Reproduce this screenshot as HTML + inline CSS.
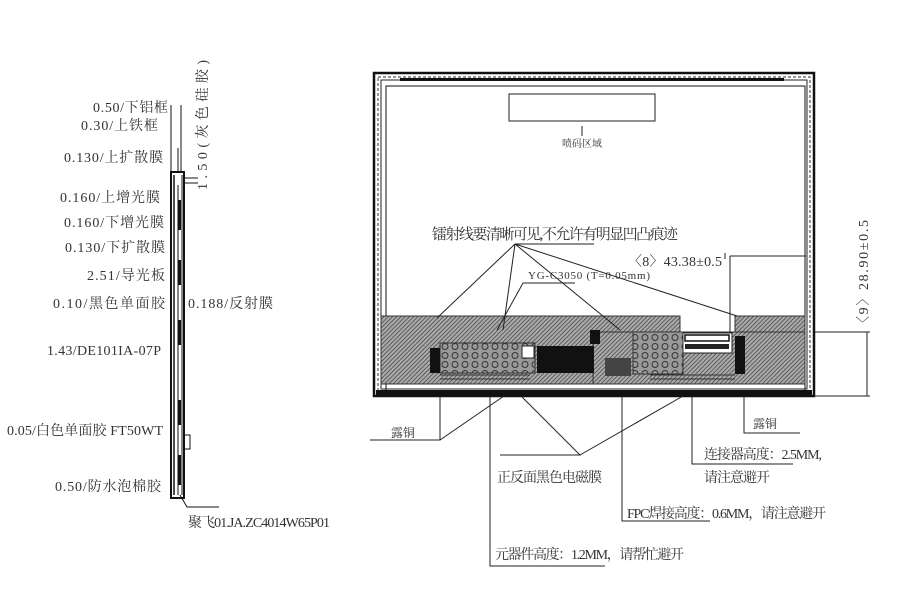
<!DOCTYPE html>
<html><head><meta charset="utf-8"><style>
html,body{margin:0;padding:0;background:#fff;}
svg{display:block;}
text{font-family:"Liberation Serif","Noto Serif CJK SC",serif;fill:#333;}
</style></head><body>
<svg width="920" height="613" viewBox="0 0 920 613" xmlns="http://www.w3.org/2000/svg">
<defs>
<pattern id="h" width="3" height="3" patternUnits="userSpaceOnUse" patternTransform="rotate(45)">
<rect width="3" height="3" fill="#aaa"/><line x1="0" y1="0" x2="0" y2="3" stroke="#444" stroke-width="1.5"/>
</pattern>
<pattern id="c" width="10" height="9" patternUnits="userSpaceOnUse">
<rect width="10" height="9" fill="#999"/><circle cx="5" cy="4.5" r="3" fill="none" stroke="#333" stroke-width="1"/>
</pattern>
</defs>

<!-- LEFT side view -->
<g stroke="#111" fill="none">
<line x1="171" y1="105" x2="171" y2="172" stroke-width="1"/>
<line x1="181" y1="105" x2="181" y2="172" stroke-width="1"/>
<line x1="178" y1="148" x2="178" y2="172" stroke-width="1"/>
<rect x="171" y="172" width="13" height="326" stroke-width="2"/>
<line x1="174" y1="175" x2="174" y2="495" stroke-width="1.5"/>
<line x1="178" y1="185" x2="178" y2="495" stroke-width="1"/>
<line x1="182" y1="175" x2="182" y2="495" stroke-width="1"/>
<line x1="184" y1="178" x2="198" y2="178" stroke-width="1"/>
<line x1="184" y1="183" x2="198" y2="183" stroke-width="1"/>
<rect x="184" y="435" width="6" height="14" stroke-width="1"/>
<polyline points="180,495 187,507 219,507" stroke-width="1"/>
</g>
<g fill="#111">
<rect x="178" y="200" width="3" height="30"/><rect x="178" y="260" width="3" height="25"/>
<rect x="178" y="320" width="3" height="25"/><rect x="178" y="400" width="3" height="25"/>
<rect x="178" y="455" width="3" height="30"/>
</g>
<g font-size="14">
<text x="93" y="112" textLength="75">0.50/下铝框</text>
<text x="81" y="130" textLength="77">0.30/上铁框</text>
<text x="64" y="162" textLength="99">0.130/上扩散膜</text>
<text x="60" y="202" textLength="100">0.160/上增光膜</text>
<text x="64" y="227" textLength="100">0.160/下增光膜</text>
<text x="65" y="252" textLength="100">0.130/下扩散膜</text>
<text x="87" y="280" textLength="78">2.51/导光板</text>
<text x="53" y="308" textLength="112">0.10/黑色单面胶</text>
<text x="188" y="308" textLength="85">0.188/反射膜</text>
<text x="47" y="355" textLength="114">1.43/DE101IA-07P</text>
<text x="7" y="435" textLength="156">0.05/白色单面胶 FT50WT</text>
<text x="55" y="491" textLength="106">0.50/防水泡棉胶</text>
<text x="188" y="527" textLength="142">聚飞01.JA.ZC4014W65P01</text>
<text transform="translate(207,190) rotate(-90)" textLength="130">1.50(灰色硅胶)</text>
</g>

<!-- RIGHT front view -->
<rect x="374" y="73" width="440" height="323" fill="none" stroke="#111" stroke-width="2.5"/>
<rect x="378" y="77" width="432" height="315" fill="none" stroke="#555" stroke-width="1.2" stroke-dasharray="3,2"/>
<rect x="381" y="80" width="426" height="309" fill="none" stroke="#222" stroke-width="1"/>
<line x1="400" y1="79.5" x2="784" y2="79.5" stroke="#111" stroke-width="3"/>
<rect x="386" y="86" width="419" height="305" fill="none" stroke="#111" stroke-width="1"/>
<rect x="509" y="94" width="146" height="27" fill="none" stroke="#222" stroke-width="1"/>
<line x1="582" y1="126" x2="582" y2="136" stroke="#222"/>
<text x="582" y="147" font-size="10" text-anchor="middle">喷码区域</text>

<!-- hatched -->
<path d="M381,316 H680 V332 H593 V384 H381 Z" fill="url(#h)" stroke="#333" stroke-width="1"/>
<path d="M735,316 H805 V384 H593 V332 H735 Z" fill="url(#h)" stroke="#333" stroke-width="1"/>
<rect x="593" y="332" width="212" height="52" fill="url(#h)" stroke="#333"/>
<rect x="682" y="333" width="50" height="20" fill="#fff" stroke="#222"/>
<rect x="685" y="335" width="44" height="6" fill="none" stroke="#111" stroke-width="1.5"/>
<rect x="685" y="344" width="44" height="5" fill="#222"/>
<rect x="440" y="343" width="95" height="30" fill="url(#c)" stroke="#333"/>
<rect x="430" y="348" width="10" height="25" fill="#111"/>
<rect x="522" y="346" width="12" height="12" fill="#fff" stroke="#222"/>
<rect x="537" y="346" width="57" height="27" fill="#111"/>
<rect x="633" y="332" width="50" height="42" fill="url(#c)" stroke="#333"/>
<rect x="605" y="358" width="26" height="18" fill="#444"/>
<rect x="735" y="336" width="10" height="38" fill="#111"/>
<rect x="590" y="330" width="10" height="14" fill="#111"/>
<g stroke="#333" stroke-width="1">
<line x1="440" y1="375" x2="530" y2="375"/><line x1="440" y1="379" x2="530" y2="379"/>
<line x1="650" y1="375" x2="735" y2="375"/><line x1="650" y1="379" x2="735" y2="379"/>
</g>
<rect x="376" y="390" width="436" height="6" fill="#111"/>

<!-- right dimension -->
<g stroke="#222" stroke-width="1" fill="none">
<line x1="814" y1="332" x2="870" y2="332"/>
<line x1="814" y1="396" x2="870" y2="396"/>
<line x1="867" y1="332" x2="867" y2="396"/>
<line x1="730" y1="256" x2="806" y2="256"/>
<line x1="730" y1="256" x2="730" y2="333"/>
<line x1="725" y1="253" x2="725" y2="259"/>
</g>
<text transform="translate(868,330) rotate(-90)" font-size="14" textLength="110">〈9〉28.90±0.5</text>
<text x="628" y="266" font-size="14" textLength="94">〈8〉43.38±0.5</text>

<!-- laser label -->
<text x="432" y="239" font-size="15" textLength="246">镭射线要清晰可见,不允许有明显凹凸痕迹</text>
<g stroke="#222" stroke-width="1" fill="none">
<line x1="515" y1="244" x2="594" y2="244"/>
<line x1="515" y1="244" x2="437" y2="318"/>
<line x1="515" y1="244" x2="503" y2="330"/>
<line x1="515" y1="244" x2="620" y2="330"/>
<line x1="515" y1="244" x2="737" y2="316"/>
<polyline points="497,330 523,283 575,283"/>
</g>
<text x="528" y="279" font-size="11" textLength="122">YG-C3050 (T=0.05mm)</text>

<!-- bottom leaders -->
<g stroke="#222" stroke-width="1" fill="none">
<polyline points="370,440 440,440 440,396"/>
<line x1="440" y1="440" x2="504" y2="396"/>
<polyline points="500,455 580,455 521,396"/>
<line x1="580" y1="455" x2="683" y2="396"/>
<polyline points="490,396 490,566 605,566"/>
<polyline points="622,396 622,521 710,521"/>
<polyline points="692,396 692,464 793,464"/>
<polyline points="744,396 744,433 800,433"/>
</g>
<g font-size="14">
<text x="391" y="437" font-size="12">露铜</text>
<text x="753" y="428" font-size="12">露铜</text>
<text x="497" y="482" textLength="105">正反面黑色电磁膜</text>
<text x="704" y="459" textLength="118">连接器高度：2.5MM,</text>
<text x="704" y="482" textLength="66">请注意避开</text>
<text x="627" y="518" textLength="199">FPC焊接高度：0.6MM，请注意避开</text>
<text x="495" y="559" textLength="189">元器件高度：1.2MM，请帮忙避开</text>
</g>
</svg>
</body></html>
